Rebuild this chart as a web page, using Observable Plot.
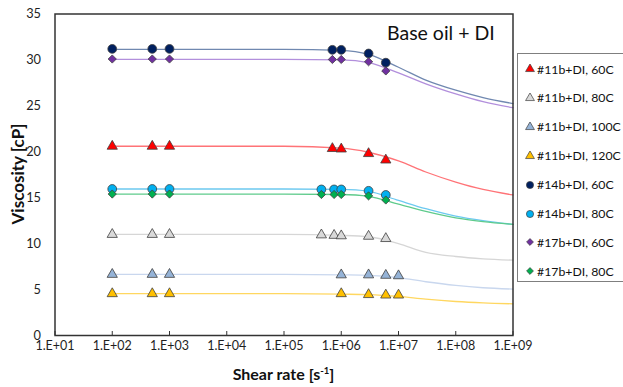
<!DOCTYPE html>
<html>
<head>
<meta charset="utf-8">
<script src="https://cdn.jsdelivr.net/npm/d3@7"></script>
<script src="https://cdn.jsdelivr.net/npm/@observablehq/plot@0.6"></script>
<style>
  body { margin: 0; background: #fff; font-family: Lato, "Open Sans", sans-serif; }
  #chart { position: relative; width: 623px; height: 387px; overflow: hidden; }
  #chart svg.plot { position: absolute; left: 0; top: 0; }
  .title { position: absolute; left: 387px; top: 21px; font-size: 19.5px; color: #111; white-space: nowrap; }
  .xtitle { position: absolute; left: 0; width: 567px; top: 364px; text-align: center; font-size: 16px; font-weight: bold; color: #111; }
  .xtitle sup { font-size: 9.5px; vertical-align: 6px; line-height: 0; }
  .ytitle { position: absolute; left: 17px; top: 174px; transform: translate(-50%, -50%) rotate(-90deg); font-size: 17px; font-weight: bold; color: #111; white-space: nowrap; }
  .legend { position: absolute; left: 517px; top: 53px; width: 130px; height: 229px; border: 1px solid #7f7f7f; box-sizing: border-box; background: #fff; }
  .legend .row { position: absolute; left: 7px; height: 16px; display: flex; align-items: center; font-size: 12.3px; color: #111; white-space: nowrap; }
  .legend .row svg { margin-right: 2px; }
</style>
</head>
<body>
<div id="chart"></div>
<script>
// Series labels, marker styles and line colours
const seriesNames = ["#11b+DI, 60C", "#11b+DI, 80C", "#11b+DI, 100C", "#11b+DI, 120C",
                     "#14b+DI, 60C", "#14b+DI, 80C", "#17b+DI, 60C", "#17b+DI, 80C"];
const symbols = ["triangle", "triangle", "triangle", "triangle", "circle", "circle", "diamond2", "diamond2"];
const markerFill = ["#ff0000", "#d9d9d9", "#95b3d7", "#ffc000", "#002060", "#00b0f0", "#7030a0", "#00b050"];
const lineColor = ["#ff7377", "#d6d6d6", "#c9d7ee", "#ffd760", "#7088b0", "#6cc9f0", "#b28fdc", "#5fcb8c"];

// Measured shear rates [1/s] and viscosities [cP]
const rate11_60 = [1e2, 5e2, 1e3, 7e5, 1e6, 3e6, 6e6];
const visc11_60 = [20.6, 20.6, 20.6, 20.35, 20.3, 19.8, 19.1];
const rate11_80 = [1e2, 5e2, 1e3, 4.5e5, 7.5e5, 1e6, 3e6, 6e6];
const visc11_80 = [11.0, 11.0, 11.0, 10.95, 10.9, 10.85, 10.8, 10.55];
const rate11_100 = [1e2, 5e2, 1e3, 1e6, 3e6, 6e6, 1e7];
const visc11_100 = [6.65, 6.65, 6.65, 6.6, 6.6, 6.55, 6.5];
const rate11_120 = [1e2, 5e2, 1e3, 1e6, 3e6, 6e6, 1e7];
const visc11_120 = [4.55, 4.55, 4.55, 4.55, 4.45, 4.4, 4.4];
const rate14_60 = [1e2, 5e2, 1e3, 7e5, 1e6, 3e6, 6e6];
const visc14_60 = [31.2, 31.2, 31.2, 31.1, 31.1, 30.7, 29.7];
const rate14_80 = [1e2, 5e2, 1e3, 4.5e5, 7.5e5, 1e6, 3e6, 6e6];
const visc14_80 = [15.95, 15.95, 15.95, 15.9, 15.9, 15.9, 15.75, 15.3];
const rate17_60 = [1e2, 5e2, 1e3, 7e5, 1e6, 3e6, 6e6];
const visc17_60 = [30.1, 30.1, 30.1, 30.05, 30.05, 29.8, 28.8];
const rate17_80 = [1e2, 5e2, 1e3, 4.5e5, 7.5e5, 1e6, 3e6, 6e6];
const visc17_80 = [15.4, 15.4, 15.4, 15.35, 15.35, 15.35, 15.2, 14.75];

// Fitted flow curves, sampled along the shear-rate axis
const fitRates = [1e2, 1e5, 1e6, 3e6, 1e7, 3e7, 1e8, 3e8, 1e9];
const fit11_60  = [20.6, 20.6, 20.4, 19.95, 19.0, 17.8, 16.7, 15.9, 15.3];
const fit11_80  = [11.0, 11.0, 10.9, 10.75, 10.0, 9.05, 8.6, 8.35, 8.2];
const fit11_100 = [6.65, 6.65, 6.6, 6.55, 6.3, 5.85, 5.45, 5.2, 5.05];
const fit11_120 = [4.55, 4.55, 4.5, 4.45, 4.25, 3.95, 3.7, 3.55, 3.45];
const fit14_60  = [31.15, 31.15, 31.05, 30.6, 29.2, 27.8, 26.7, 25.9, 25.25];
const fit14_80  = [15.95, 15.95, 15.9, 15.7, 14.7, 13.8, 13.0, 12.5, 12.1];
const fit17_60  = [30.05, 30.05, 30.0, 29.7, 28.6, 27.4, 26.3, 25.45, 24.8];
const fit17_80  = [15.4, 15.4, 15.35, 15.15, 14.3, 13.5, 12.8, 12.4, 12.1];

// Axis ticks
const xTicks = [1e1, 1e2, 1e3, 1e4, 1e5, 1e6, 1e7, 1e8, 1e9];
const yTicks = [0, 5, 10, 15, 20, 25, 30, 35];

const measured = [
  [rate11_60, visc11_60], [rate11_80, visc11_80], [rate11_100, visc11_100], [rate11_120, visc11_120],
  [rate14_60, visc14_60], [rate14_80, visc14_80], [rate17_60, visc17_60], [rate17_80, visc17_80]
];
const fits = [fit11_60, fit11_80, fit11_100, fit11_120, fit14_60, fit14_80, fit17_60, fit17_80];

const pointRows = measured.map(([rates, vals]) => rates.map((r, j) => ({rate: r, visc: vals[j]})));
const fitRows = fits.map(vals => fitRates.map((r, j) => ({rate: r, visc: vals[j]})));

const markerR = {triangle: 3.8, circle: 4.4, diamond2: 3.7};

// Excel-style exponent labels, e.g. 1.E+02
const fmtExp = d => "1.E+" + String(Math.round(Math.log10(d))).padStart(2, "0");

const marks = [
  ...fitRows.map((rows, i) => Plot.line(rows, {x: "rate", y: "visc", stroke: lineColor[i], strokeWidth: 1.3, curve: "monotone-x"})),
  ...pointRows.map((rows, i) => Plot.dot(rows, {
    x: "rate", y: "visc", symbol: () => symbols[i], r: markerR[symbols[i]],
    fill: markerFill[i], stroke: "#3f3f3f", strokeWidth: 0.8
  })),
  Plot.axisX({ticks: xTicks, tickFormat: fmtExp, tickSize: -4, tickPadding: 10, label: null,
              fontSize: 12.5, color: "#1f1f1f", stroke: "#333"}),
  Plot.axisY({ticks: yTicks, tickSize: 0, tickPadding: 14, label: null, fontSize: 12.8, color: "#1f1f1f"}),
  Plot.frame({stroke: "#333", strokeWidth: 1.5})
];

const plot = Plot.plot({
  width: 623,
  height: 387,
  marginLeft: 54.5,
  marginRight: 110.5,
  marginTop: 13.5,
  marginBottom: 52,
  style: {fontFamily: "Lato, 'Open Sans', sans-serif", fontSize: "12.5px", color: "#1f1f1f", background: "#fff"},
  x: {type: "log", domain: [1e1, 1e9]},
  y: {domain: [0, 35]},
  symbol: {type: "identity"},
  marks
});

const chart = document.getElementById("chart");
chart.appendChild(plot);

// Titles
const title = document.createElement("div");
title.className = "title";
title.textContent = "Base oil + DI";
chart.appendChild(title);

const xt = document.createElement("div");
xt.className = "xtitle";
xt.innerHTML = "Shear rate [s<sup>-1</sup>]";
chart.appendChild(xt);

const yt = document.createElement("div");
yt.className = "ytitle";
yt.textContent = "Viscosity [cP]";
chart.appendChild(yt);

// Legend
const legend = document.createElement("div");
legend.className = "legend";
const symbolMap = {triangle: d3.symbolTriangle, circle: d3.symbolCircle, diamond2: d3.symbolDiamond2};
const legendSize = {triangle: 34, circle: 40, diamond2: 30};
seriesNames.forEach((name, i) => {
  const row = document.createElement("div");
  row.className = "row";
  row.style.top = (7 + i * 28.9) + "px";
  const path = d3.symbol(symbolMap[symbols[i]], legendSize[symbols[i]])();
  row.innerHTML = `<svg width="10" height="10" viewBox="-5 -5 10 10"><path d="${path}" fill="${markerFill[i]}" stroke="#3f3f3f" stroke-width="0.7"/></svg><span></span>`;
  row.querySelector("span").textContent = name;
  legend.appendChild(row);
});
chart.appendChild(legend);
</script>
</body>
</html>
